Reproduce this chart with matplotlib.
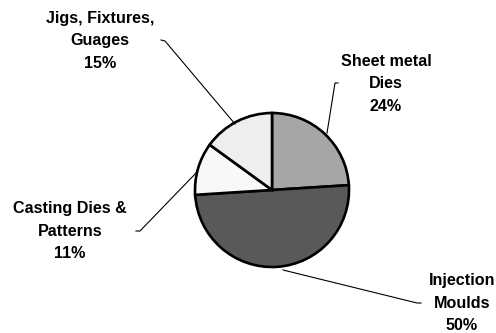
import matplotlib
matplotlib.use("Agg")
import matplotlib.pyplot as plt

categories = ["Sheet metal\nDies", "Injection\nMoulds", "Casting Dies &\nPatterns", "Jigs, Fixtures,\nGuages"]
shares = [24, 50, 11, 15]
colors = ["#a6a6a6", "#595959", "#f8f8f8", "#eeeeee"]

W, H = 496, 333
fig = plt.figure(figsize=(W / 100, H / 100), dpi=100)
ax = fig.add_axes([0, 0, 1, 1])

cx, cy, r = 272, H - 190, 77
ax.pie(shares, colors=colors, startangle=90, counterclock=False,
       center=(cx, cy), radius=r, frame=True,
       wedgeprops=dict(edgecolor="black", linewidth=1.9))
ax.set_xlim(0, W)
ax.set_ylim(0, H)
ax.set_aspect("equal")
ax.axis("off")

# label block centres (x, y of middle line) and leader line paths
label_pos = [(386, 84), (462, 303), (70, 231), (100, 41)]
leaders = [
    [(338, 83), (335, 83), (327, 133)],
    [(421, 303), (417, 303), (283, 270)],
    [(136, 231), (140, 231), (197, 172)],
    [(161, 40), (165, 41), (235, 124)],
]

for cat, val, (lx, ly), path in zip(categories, shares, label_pos, leaders):
    ax.text(lx, H - ly, f"{cat}\n{val}%", ha="center", va="center",
            fontsize=11.6, fontweight="bold", family="Liberation Sans",
            linespacing=1.6, color="black")
    xs = [p[0] for p in path]
    ys = [H - p[1] for p in path]
    ax.plot(xs, ys, color="black", linewidth=0.8)

fig.savefig("out.png", dpi=100)
